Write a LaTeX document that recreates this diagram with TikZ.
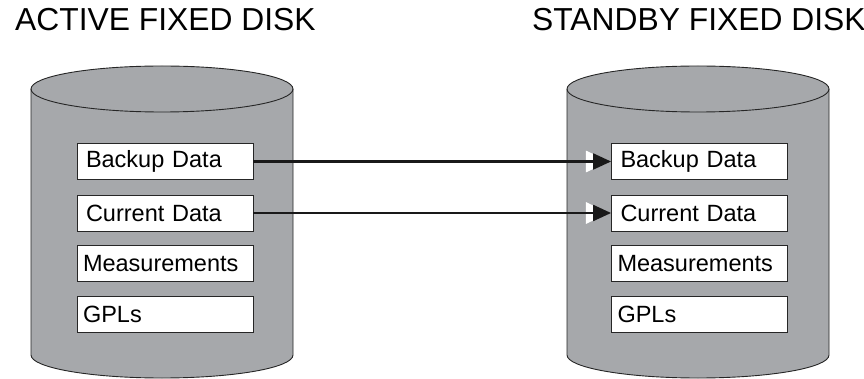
\documentclass[tikz,border=0pt]{standalone}
\usepackage{fontspec}
\setmainfont{Liberation Sans}
\usetikzlibrary{arrows.meta}
\definecolor{diskgray}{RGB}{166,168,171}

\begin{document}
\begin{tikzpicture}[x=1pt,y=1pt,
        disk/.style={fill=diskgray, draw=black!85, line width=0.9pt},
        item/.style={draw=black!85, fill=white, line width=0.9pt, minimum width=176pt, minimum height=36pt,
            text width=176pt, align=left, font=\fontsize{23.5}{25}\selectfont, inner xsep=0pt},
        title/.style={anchor=base west, inner sep=0pt, font=\fontsize{31.8}{33}\selectfont},
        copy/.style={line width=2.2pt, black!90, -{Triangle[length=18pt, width=16pt]},
            preaction={draw=white, -{Triangle[length=26pt, width=24pt]}}}]
        \useasboundingbox (0,0) rectangle (864,-379);
        % disks
        \foreach \cx in {162,698} {
            \draw[disk] (\cx-131,-89) -- (\cx-131,-355) arc[start angle=180, end angle=360, x radius=131, y radius=23]
                -- (\cx+131,-89) arc[start angle=0, end angle=180, x radius=131, y radius=23] -- cycle;
            \draw[disk, fill=none] (\cx-131,-89) arc[start angle=180, end angle=360, x radius=131, y radius=23];
        }
        \node[title] (activetitle) at (15,-31) {ACTIVE FIXED DISK};
        \node[title] (standbytitle) at (532,-31) {STANDBY FIXED DISK};
        % active disk contents
        \node[item] (abackup) at (165,-161.5) {\hspace*{9pt}Backup Data};
        \node[item] (acurrent) at (165,-213) {\hspace*{9pt}Current Data};
        \node[item] (ameas) at (165,-263.5) {\hspace*{6pt}Measurements};
        \node[item] (agpl) at (165,-314) {\hspace*{6pt}GPLs};
        % standby disk contents
        \node[item] (sbackup) at (699.5,-161.5) {\hspace*{9pt}Backup Data};
        \node[item] (scurrent) at (699.5,-213) {\hspace*{9pt}Current Data};
        \node[item] (smeas) at (699.5,-263.5) {\hspace*{6pt}Measurements};
        \node[item] (sgpl) at (699.5,-314) {\hspace*{6pt}GPLs};
        % replication
        \draw[copy] (abackup.east) -- (sbackup.west);
        \draw[copy] (acurrent.east) -- (scurrent.west);
    \end{tikzpicture}
\end{document}
